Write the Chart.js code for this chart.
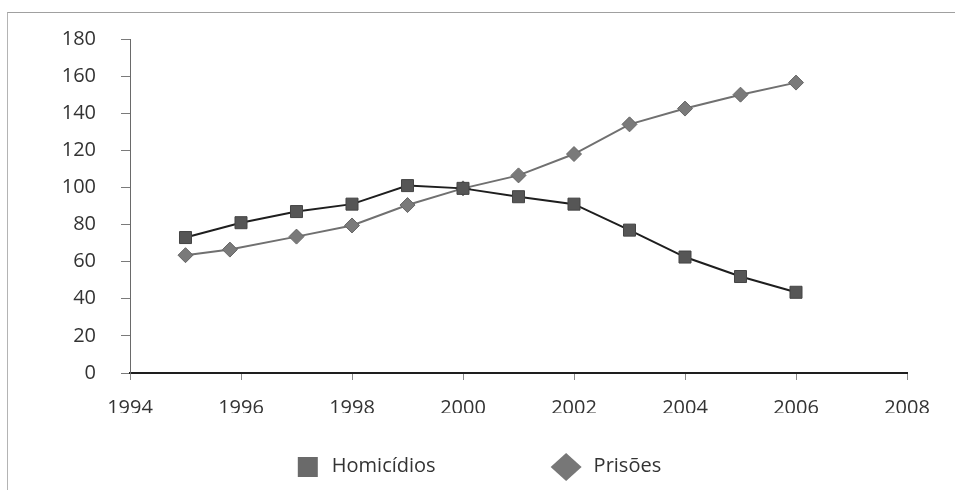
<!DOCTYPE html>
<html>
<head>
<meta charset="utf-8">
<script src="https://cdn.jsdelivr.net/npm/chart.js@4/dist/chart.umd.min.js"></script>
<style>
  html, body { margin: 0; padding: 0; background: #fff; }
  #wrap { position: relative; width: 955px; height: 490px; }
  #frame { position: absolute; left: 7px; top: 12px; right: 0; bottom: 0;
           border-left: 1px solid #b4b4b4; border-top: 1px solid #a0a0a0; }
  canvas { position: absolute; left: 0; top: 0; }
</style>
</head>
<body>
<div id="wrap">
  <div id="frame"></div>
  <canvas id="c" width="955" height="490"></canvas>
</div>
<script>
// Homicides and imprisonments, index values by year
const homicidiosYears = [1995, 1996, 1997, 1998, 1999, 2000, 2001, 2002, 2003, 2004, 2005, 2006];
const homicidios      = [73, 81, 87, 91, 101, 99.5, 95, 91, 77, 62.5, 52, 43.5];

const prisoesYears = [1995, 1995.8, 1997, 1998, 1999, 2000, 2001, 2002, 2003, 2004, 2005, 2006];
const prisoes      = [63.5, 66.5, 73.5, 79.5, 90.5, 99.5, 106.5, 118, 134, 142.5, 150, 156.5];

const xTicks = [1994, 1996, 1998, 2000, 2002, 2004, 2006, 2008];
const yTicks = [0, 20, 40, 60, 80, 100, 120, 140, 160, 180];

const seriesLabels = ['Homicídios', 'Prisões'];

const FONT = "'Open Sans', 'Noto Sans', sans-serif";
const TEXT = '#333333';

const toPoints = (xs, ys) => xs.map((x, i) => ({ x: x, y: ys[i] }));

// Legend row under the plot, drawn from each dataset's label and point style
const bottomLegend = {
  id: 'bottomLegend',
  afterDraw(chart) {
    const ctx = chart.ctx;
    const cy = 467;
    const itemGap = 115;
    ctx.save();
    ctx.font = '20px ' + FONT;
    ctx.textBaseline = 'middle';
    const items = chart.data.datasets.map(ds => {
      const isRect = ds.pointStyle === 'rect';
      const mw = isRect ? 20 : 31;
      const tg = isRect ? 14 : 12;
      return { ds, isRect, mw, tg, tw: ctx.measureText(ds.label).width };
    });
    const total = items.reduce((s, it) => s + it.mw + it.tg + it.tw, 0) + itemGap * (items.length - 1);
    let x = chart.width / 2 + 2 - total / 2;
    items.forEach(it => {
      ctx.fillStyle = it.ds.legendColor;
      if (it.isRect) {
        ctx.fillRect(x, cy - 10, 20, 20);
      } else {
        const mx = x + it.mw / 2;
        ctx.beginPath();
        ctx.moveTo(mx, cy - 14);
        ctx.lineTo(mx + it.mw / 2, cy);
        ctx.lineTo(mx, cy + 14);
        ctx.lineTo(mx - it.mw / 2, cy);
        ctx.closePath();
        ctx.fill();
      }
      ctx.fillStyle = TEXT;
      ctx.textAlign = 'left';
      ctx.fillText(it.ds.label, x + it.mw + it.tg, cy - 1);
      x += it.mw + it.tg + it.tw + itemGap;
    });
    ctx.restore();
  }
};

new Chart(document.getElementById('c'), {
  type: 'line',
  data: {
    datasets: [
      {
        label: seriesLabels[0],
        data: toPoints(homicidiosYears, homicidios),
        borderColor: '#1e1e1e',
        borderWidth: 2,
        backgroundColor: '#555555',
        pointStyle: 'rect',
        pointRadius: 8.5,
        pointBorderColor: '#454545',
        pointBorderWidth: 1,
        pointBackgroundColor: '#565656',
        legendColor: '#6a6a6a',
        tension: 0
      },
      {
        label: seriesLabels[1],
        data: toPoints(prisoesYears, prisoes),
        borderColor: '#707070',
        borderWidth: 2,
        backgroundColor: '#777777',
        pointStyle: 'rectRot',
        pointRadius: 7.5,
        pointBorderColor: '#666666',
        pointBorderWidth: 1,
        pointBackgroundColor: '#7a7a7a',
        legendColor: '#777777',
        tension: 0
      }
    ]
  },
  options: {
    responsive: false,
    animation: false,
    layout: { padding: { left: 0, right: 48, top: 39, bottom: 77 } },
    plugins: {
      legend: { display: false },
      tooltip: { enabled: false }
    },
    scales: {
      x: {
        type: 'linear',
        min: xTicks[0],
        max: xTicks[xTicks.length - 1],
        afterBuildTicks: s => { s.ticks = xTicks.map(v => ({ value: v })); },
        afterFit: s => { s.height = 40; },
        ticks: {
          color: TEXT,
          font: { family: FONT, size: 20 },
          padding: 16,
          maxRotation: 0,
          callback: v => String(v)
        },
        grid: { display: true, drawOnChartArea: false, drawTicks: true, tickLength: 7, color: '#8a8a8a' },
        border: { display: true, color: '#1e1e1e', width: 2 }
      },
      y: {
        min: yTicks[0],
        max: yTicks[yTicks.length - 1],
        afterBuildTicks: s => { s.ticks = yTicks.map(v => ({ value: v })); },
        afterFit: s => { s.width = 130; },
        ticks: {
          color: TEXT,
          font: { family: FONT, size: 20 },
          padding: 25,
          callback: v => String(v)
        },
        grid: { display: true, drawOnChartArea: false, drawTicks: true, tickLength: 9, color: '#7a7a7a' },
        border: { display: true, color: '#6a6a6a', width: 1 }
      }
    }
  },
  plugins: [bottomLegend]
});
</script>
</body>
</html>
